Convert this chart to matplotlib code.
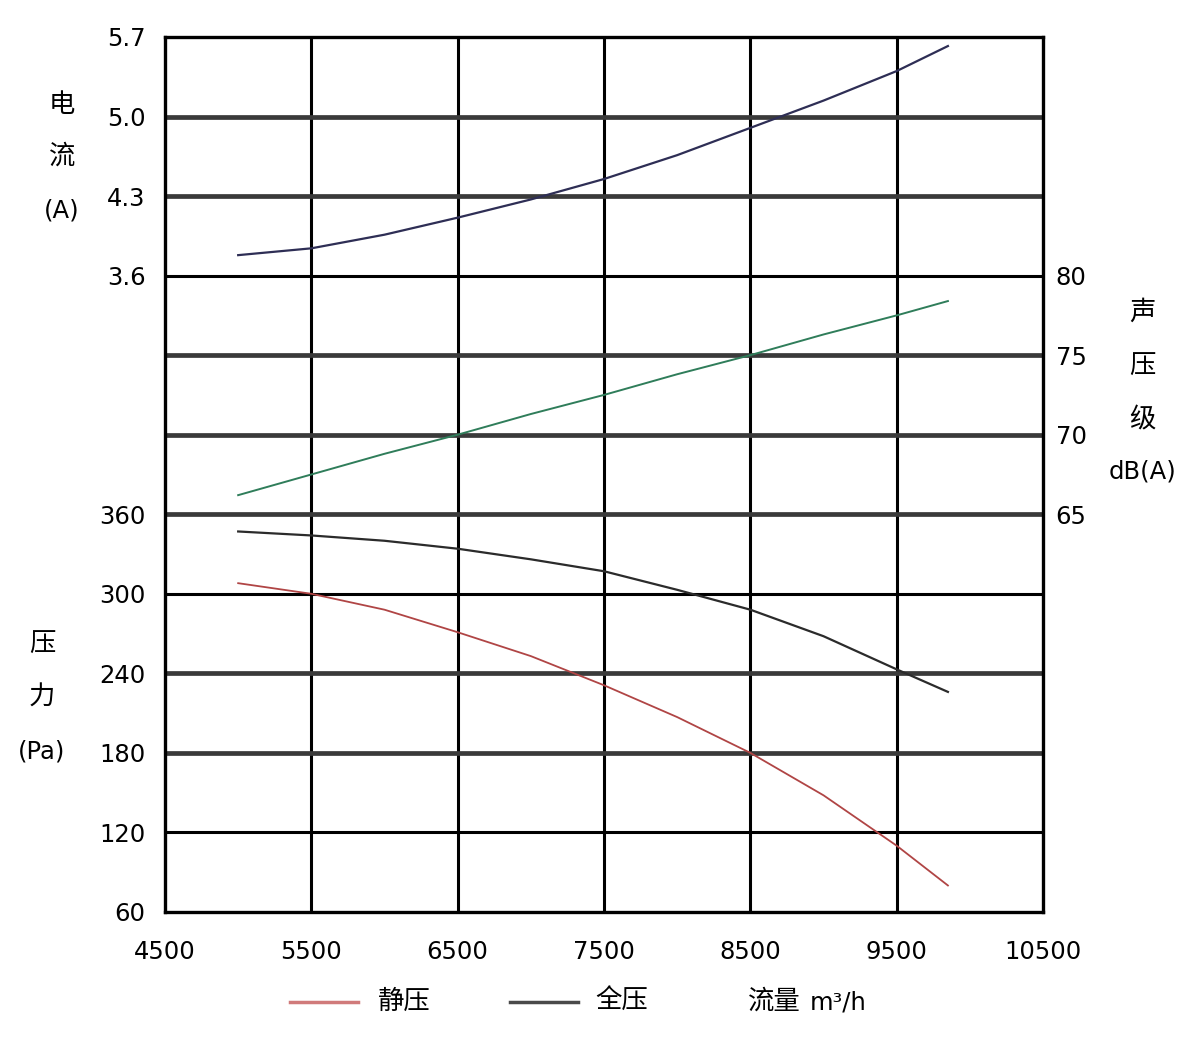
import numpy as np
import matplotlib.pyplot as plt

plt.rcParams['font.family'] = ['DejaVu Sans', 'Noto Sans CJK SC']

# flow (m3/h)
flow = [5000, 5500, 6000, 6500, 7000, 7500, 8000, 8500, 9000, 9500, 9850]
# current (A)
current = [3.78, 3.84, 3.96, 4.11, 4.27, 4.45, 4.66, 4.90, 5.14, 5.40, 5.62]
# sound pressure level dB(A)
sound = [66.2, 67.5, 68.8, 70.0, 71.3, 72.5, 73.8, 75.0, 76.3, 77.5, 78.4]
# total pressure (Pa)
total_p = [347, 344, 340, 334, 326, 317, 303, 288, 268, 243, 226]
# static pressure (Pa)
static_p = [308, 300, 288, 271, 253, 231, 207, 180, 148, 110, 80]

x_ticks = [4500, 5500, 6500, 7500, 8500, 9500, 10500]
cur_ticks = [3.6, 4.3, 5.0, 5.7]
snd_ticks = [65, 70, 75, 80]
prs_ticks = [60, 120, 180, 240, 300, 360]

fs = 17.5
cjk = 19

fig = plt.figure(figsize=(12, 10.38), dpi=100)
ax = fig.add_axes([0.1375, 0.1214, 0.7317, 0.843])
ax.set_xlim(4500, 10500)
ax.set_ylim(0, 11)

# grid
for xv in x_ticks[1:-1]:
    ax.axvline(xv, color='black', lw=2.2, zorder=1)
thick = [2, 3, 5, 6, 7, 9, 10]
for u in range(1, 11):
    if u in thick:
        ax.axhline(u, color='#3a3a3a', lw=3.4, zorder=1)
    else:
        ax.axhline(u, color='black', lw=2.2, zorder=1)
for s in ax.spines.values():
    s.set_linewidth(2.4)
ax.set_xticks(x_ticks)
ax.set_xticklabels([str(v) for v in x_ticks], fontsize=fs)
ax.set_yticks([])
ax.tick_params(axis='x', length=0, pad=20)

# twin axes for each quantity
ax_c = ax.twinx()
ax_c.set_ylim(-2.0, 5.7)
ax_s = ax.twinx()
ax_s.set_ylim(40, 95)
ax_p = ax.twinx()
ax_p.set_ylim(60, 720)
for a in (ax_c, ax_s, ax_p):
    for s in a.spines.values():
        s.set_visible(False)

ax_c.yaxis.set_ticks_position('left')
ax_c.set_yticks(cur_ticks)
ax_c.set_yticklabels([f'{v:.1f}' for v in cur_ticks], fontsize=fs)
ax_c.tick_params(axis='y', length=0, pad=14)

ax_p.yaxis.set_ticks_position('left')
ax_p.set_yticks(prs_ticks)
ax_p.set_yticklabels([str(v) for v in prs_ticks], fontsize=fs)
ax_p.tick_params(axis='y', length=0, pad=14)

ax_s.yaxis.set_ticks_position('right')
ax_s.set_yticks(snd_ticks)
ax_s.set_yticklabels([str(v) for v in snd_ticks], fontsize=fs)
ax_s.tick_params(axis='y', length=0, pad=9)

ax_c.plot(flow, current, color='#2e2e55', lw=1.6, zorder=3)
ax_s.plot(flow, sound, color='#2f7d5a', lw=1.4, zorder=3)
ax_p.plot(flow, total_p, color='#2b2b2b', lw=1.6, zorder=3)
ax_p.plot(flow, static_p, color='#b04545', lw=1.3, zorder=3)

# axis titles
for txt, y, f in [('电', 105, cjk), ('流', 157, cjk), ('(A)', 210, fs)]:
    fig.text(62 / 1200, 1 - y / 1038, txt, ha='center', va='center', fontsize=f)
for txt, y, f in [('压', 645, cjk), ('力', 698, cjk), ('(Pa)', 752, fs)]:
    fig.text(42 / 1200, 1 - y / 1038, txt, ha='center', va='center', fontsize=f)
for txt, y, f in [('声', 313, cjk), ('压', 367, cjk), ('级', 420, cjk), ('dB(A)', 472, fs)]:
    fig.text(1142 / 1200, 1 - y / 1038, txt, ha='center', va='center', fontsize=f)

# legend row
ly = 1 - 1002 / 1038
fig.add_artist(plt.Line2D([290 / 1200, 358 / 1200], [ly, ly], color='#d07a7a', lw=2.5))
fig.text(378 / 1200, ly, '静压', ha='left', va='center', fontsize=cjk)
fig.add_artist(plt.Line2D([510 / 1200, 578 / 1200], [ly, ly], color='#4a4a4a', lw=2.5))
fig.text(595 / 1200, ly, '全压', ha='left', va='center', fontsize=cjk)
fig.text(748 / 1200, ly, '流量', ha='left', va='center', fontsize=cjk)
fig.text(810 / 1200, ly, 'm³/h', ha='left', va='center', fontsize=fs)

fig.savefig('out.png', dpi=100)
